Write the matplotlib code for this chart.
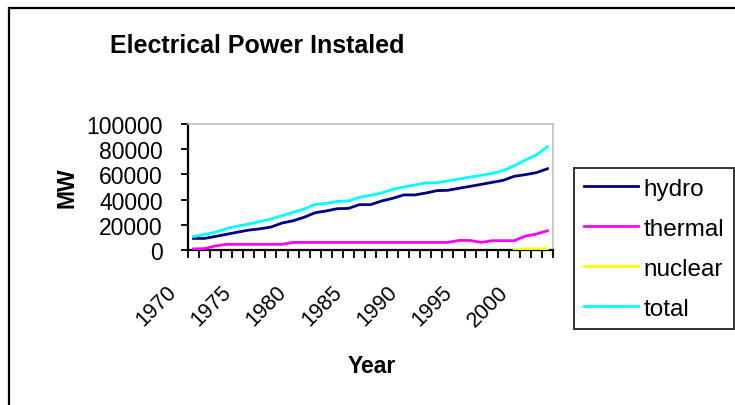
import matplotlib.pyplot as plt
from matplotlib.patches import Rectangle
from matplotlib.transforms import ScaledTranslation
import numpy as np

plt.rcParams['font.family'] = ['Liberation Sans', 'DejaVu Sans']

years = list(range(1970, 2003))

# installed capacity, MW
hydro = [9200, 9200, 10800, 12500, 14200, 15800, 16800, 18200, 21400, 23200,
         26000, 29600, 31000, 32800, 33000, 36000, 36000, 38900, 41000, 43700,
         43700, 45200, 47100, 47400, 49000, 50500, 52100, 53700, 55300, 58500,
         59800, 61400, 64500]
thermal = [800, 1200, 3200, 4500, 4500, 4500, 4500, 4500, 4500, 6000,
           6000, 6000, 6000, 6000, 6000, 6000, 6000, 6000, 6000, 6000,
           6000, 6000, 6000, 6000, 7600, 7600, 6000, 7400, 7400, 7400,
           11000, 12700, 15300]
nuclear = [np.nan] * 29 + [0, 1000, 1000, 1000]
total = [10600, 12300, 14200, 17000, 19000, 20600, 22500, 24600, 27200, 29900,
         32500, 36300, 37000, 38600, 38900, 41800, 43400, 45200, 48100, 50000,
         51600, 53300, 53400, 54800, 56300, 57900, 59300, 60800, 63000, 66900,
         71400, 75400, 82000]

series = [('hydro', hydro, '#000080'),
          ('thermal', thermal, '#FF00FF'),
          ('nuclear', nuclear, '#FFFF00'),
          ('total', total, '#00FFFF')]

W, H = 735, 406
fig = plt.figure(figsize=(W / 100, H / 100), dpi=100)

# chart border (runs off the right and bottom edges)
fig.patches.append(Rectangle((8.5 / W, -0.1), 1.2, 1 - 8.5 / H + 0.1,
                             transform=fig.transFigure, fill=False,
                             edgecolor='black', linewidth=1.6))

ax = fig.add_axes([188 / W, 1 - 251 / H, (553 - 188) / W, (251 - 125) / H])

x = np.arange(len(years))
for name, vals, color in series:
    ax.plot(x, vals, color=color, linewidth=2.0, label=name, zorder=3)

ax.set_xlim(-0.5, len(years) - 0.5)
ax.set_ylim(0, 100000)
ax.set_yticks(range(0, 100001, 20000))
ax.tick_params(axis='y', direction='out', length=5, width=1.3, pad=13,
               labelsize=16.5)

# tick marks between categories, labels every fifth year
ax.set_xticks(np.arange(-0.5, len(years)), minor=True)
ax.set_xticks([])
ax.tick_params(axis='x', which='minor', direction='out', length=6, width=1.3)

off = ScaledTranslation(-0.28, -0.31, fig.dpi_scale_trans)
for i, yr in enumerate(years):
    if (yr - 1970) % 5 == 0:
        ax.text(i, 0, str(yr), transform=ax.get_xaxis_transform() + off,
                rotation=45, rotation_mode='anchor', ha='right', va='top',
                fontsize=15.5, clip_on=False)

for side in ['top', 'right']:
    ax.spines[side].set_color('#c0c0c0')
    ax.spines[side].set_linewidth(1.2)
for side in ['left', 'bottom']:
    ax.spines[side].set_linewidth(1.6)

fig.text(257 / W, 1 - 46 / H, 'Electrical Power Instaled', ha='center',
         va='center', fontsize=18, fontweight='bold')
fig.text(67 / W, 1 - 188 / H, 'MW', rotation=90, ha='center', va='center',
         fontsize=16.5, fontweight='bold')
fig.text(372 / W, 1 - 367 / H, 'Year', ha='center', va='center',
         fontsize=16.5, fontweight='bold')

leg = fig.legend(loc='upper left', bbox_to_anchor=(574 / W, 1 - 169 / H),
                 bbox_transform=fig.transFigure, fontsize=17.5,
                 frameon=True, fancybox=False, edgecolor='black',
                 handlelength=2.25, handletextpad=0.2, labelspacing=0.74,
                 borderpad=0.4, borderaxespad=0)
leg.get_frame().set_linewidth(1.4)

fig.savefig('out.png', dpi=100, facecolor='white')
